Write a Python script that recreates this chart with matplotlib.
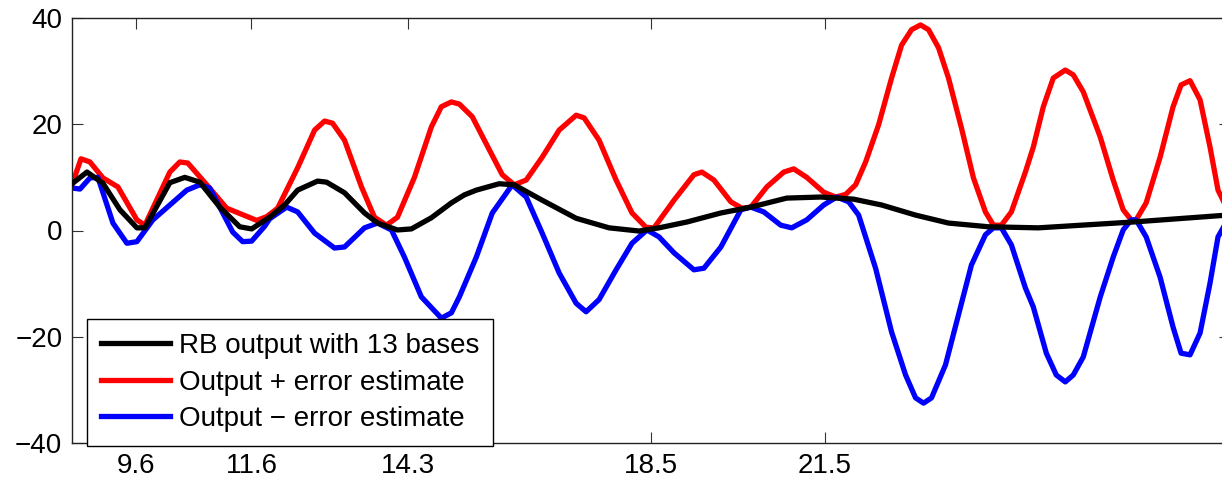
import matplotlib
matplotlib.use("Agg")
import matplotlib.pyplot as plt

plt.rcParams['font.family'] = ['Liberation Sans', 'DejaVu Sans']

# RB output (black)
x_rb = [8.500, 8.759, 9.034, 9.328, 9.621, 9.759, 10.190, 10.448, 10.707, 11.052,
        11.397, 11.603, 11.914, 12.172, 12.397, 12.741, 12.897, 13.207, 13.552, 13.776,
        14.121, 14.362, 14.707, 15.052, 15.276, 15.483, 15.879, 16.138, 16.621, 17.207,
        17.776, 18.293, 18.638, 19.121, 19.707, 20.224, 20.845, 21.431, 22.000, 22.483,
        23.069, 23.638, 24.328, 25.190, 26.828, 28.328, 28.500]
y_rb = [8.8, 11.0, 8.9, 3.9, 0.5, 0.5, 9.0, 10.0, 9.1, 4.4,
        0.7, 0.3, 2.5, 4.8, 7.6, 9.3, 9.1, 7.1, 3.3, 1.4,
        0.1, 0.3, 2.4, 5.2, 6.7, 7.6, 8.8, 8.6, 5.7, 2.3,
        0.5, -0.1, 0.5, 1.6, 3.3, 4.4, 6.1, 6.3, 5.9, 4.8,
        2.9, 1.4, 0.7, 0.5, 1.6, 2.8, 2.9]

# Output + error estimate (red)
x_plus = [8.500, 8.655, 8.810, 9.034, 9.293, 9.621, 9.759, 10.190, 10.362, 10.500,
          10.828, 11.172, 11.690, 11.862, 12.052, 12.397, 12.690, 12.862, 13.000, 13.207,
          13.500, 13.724, 13.931, 14.121, 14.414, 14.707, 14.879, 15.052, 15.190, 15.414,
          15.707, 15.931, 16.138, 16.345, 16.621, 16.914, 17.207, 17.345, 17.603, 17.897,
          18.172, 18.414, 18.552, 18.897, 19.241, 19.379, 19.586, 19.879, 20.069, 20.224,
          20.500, 20.793, 20.966, 21.190, 21.483, 21.690, 21.862, 22.034, 22.207, 22.431,
          22.655, 22.828, 23.000, 23.155, 23.293, 23.466, 23.638, 23.862, 24.069, 24.276,
          24.414, 24.552, 24.724, 24.966, 25.103, 25.276, 25.448, 25.655, 25.793, 25.966,
          26.259, 26.483, 26.655, 26.793, 26.879, 27.052, 27.293, 27.517, 27.655, 27.810,
          27.983, 28.155, 28.293, 28.500]
y_plus = [8.6, 13.5, 12.9, 9.9, 8.2, 2.0, 1.0, 11.0, 12.9, 12.7,
          8.6, 4.2, 1.9, 2.6, 4.2, 11.8, 18.9, 20.6, 20.2, 17.0,
          8.2, 2.5, 1.0, 2.5, 10.0, 19.5, 23.3, 24.2, 23.8, 21.4,
          15.2, 10.5, 8.6, 9.5, 13.8, 18.9, 21.7, 21.2, 17.0, 9.5,
          3.3, 0.6, 0.5, 5.7, 10.5, 11.0, 9.5, 5.4, 4.2, 4.4,
          8.2, 11.0, 11.6, 10.0, 7.2, 6.3, 6.8, 8.6, 12.9, 19.9,
          28.7, 34.9, 37.8, 38.7, 37.8, 34.4, 28.7, 19.3, 9.9, 3.5,
          1.0, 1.0, 3.5, 11.0, 15.7, 23.3, 28.7, 30.2, 29.3, 26.1,
          17.6, 9.5, 3.9, 2.0, 2.0, 5.2, 13.8, 23.3, 27.4, 28.2,
          24.6, 15.7, 7.6, 3.0]

# Output - error estimate (blue)
x_minus = [8.500, 8.638, 8.810, 8.948, 9.207, 9.448, 9.621, 9.897, 10.190, 10.483,
           10.707, 10.879, 11.276, 11.448, 11.603, 11.828, 11.914, 12.207, 12.397, 12.690,
           13.034, 13.207, 13.552, 13.776, 14.017, 14.241, 14.534, 14.879, 15.052, 15.190,
           15.483, 15.759, 16.103, 16.345, 16.621, 16.914, 17.207, 17.379, 17.603, 17.897,
           18.172, 18.431, 18.638, 18.897, 19.241, 19.414, 19.707, 20.052, 20.224, 20.448,
           20.741, 20.931, 21.190, 21.483, 21.707, 21.914, 22.086, 22.379, 22.655, 22.897,
           23.069, 23.207, 23.345, 23.586, 23.810, 24.034, 24.276, 24.414, 24.552, 24.724,
           24.966, 25.103, 25.328, 25.500, 25.655, 25.793, 25.966, 26.259, 26.483, 26.655,
           26.793, 26.879, 27.052, 27.293, 27.517, 27.655, 27.810, 27.983, 28.155, 28.293,
           28.500]
y_minus = [8.0, 7.8, 9.9, 10.0, 1.4, -2.4, -2.1, 2.0, 4.8, 7.6,
           8.6, 8.0, -0.3, -2.1, -2.0, 0.8, 2.2, 4.4, 3.5, -0.5,
           -3.3, -3.1, 0.5, 1.4, 0.1, -5.0, -12.5, -16.5, -15.5, -12.5,
           -5.0, 3.3, 8.6, 6.3, -0.5, -8.0, -13.7, -15.3, -13.0, -7.4,
           -2.4, 0.1, -1.2, -4.2, -7.4, -7.1, -3.1, 3.9, 4.4, 3.5,
           1.0, 0.5, 2.0, 4.8, 6.3, 5.4, 2.9, -7.1, -19.1, -27.2,
           -31.5, -32.5, -31.5, -25.3, -15.9, -6.5, -0.8, 0.5, 0.5, -2.7,
           -10.8, -14.4, -23.1, -27.2, -28.5, -27.2, -23.8, -12.5, -5.0, 0.1,
           2.0, 2.0, -1.2, -8.8, -18.2, -23.1, -23.4, -19.3, -9.9, -1.2,
           2.8]

xtick_vals = [9.6, 11.6, 14.3, 18.5, 21.5]
xtick_labels = ['9.6', '11.6', '14.3', '18.5', '21.5']
ytick_vals = [-40, -20, 0, 20, 40]

labels = ['RB output with 13 bases', 'Output + error estimate', 'Output \u2212 error estimate']

W, H = 1222, 484
fig = plt.figure(figsize=(W / 100, H / 100), dpi=100)
ax = fig.add_axes([72 / W, 1 - 443 / H, (1230 - 72) / W, (443 - 18) / H])

lw = 3.8
ax.plot(x_rb, y_rb, color='black', lw=lw, label=labels[0], zorder=3)
ax.plot(x_plus, y_plus, color='#ff0000', lw=lw, label=labels[1], zorder=2)
ax.plot(x_minus, y_minus, color='#0000ff', lw=lw, label=labels[2], zorder=2)

ax.set_xlim(8.5, 28.5)
ax.set_ylim(-40, 40)
ax.set_xticks(xtick_vals)
ax.set_xticklabels(xtick_labels)
ax.set_yticks(ytick_vals)
ax.tick_params(direction='in', length=8, width=0.8, color='#333333',
               top=True, right=True, labelsize=20, pad=7)
for s in ax.spines.values():
    s.set_linewidth(1.0)
    s.set_color('#222222')

leg = ax.legend(loc='lower left', bbox_to_anchor=(87 / W, 1 - 446 / H),
                bbox_transform=fig.transFigure, borderaxespad=0,
                fontsize=20, frameon=True, fancybox=False, framealpha=1,
                edgecolor='black', handlelength=2.5, handletextpad=0.3,
                labelspacing=0.38, borderpad=0.5)
leg.get_frame().set_linewidth(1.0)
leg.set_zorder(10)

fig.savefig('out.png', dpi=100)
